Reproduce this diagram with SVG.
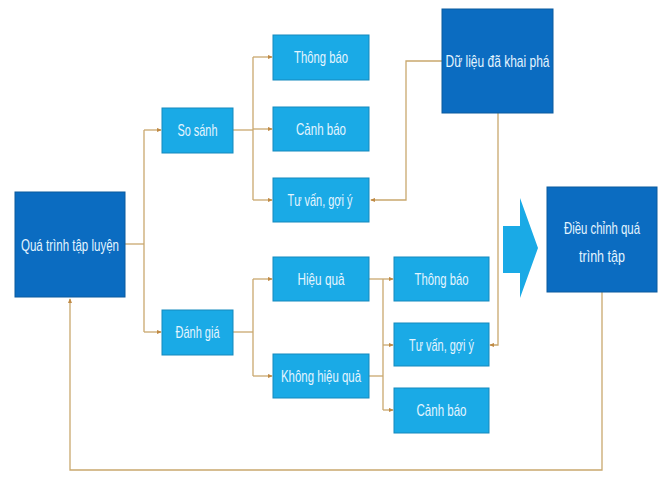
<svg xmlns="http://www.w3.org/2000/svg" width="661" height="481" viewBox="0 0 661 481">
<style>
.dark{fill:#0b6cc1;stroke:#0a5a9e;stroke-width:1}
.light{fill:#1aaae6;stroke:#1589bd;stroke-width:1}
.t{font-family:"Liberation Sans",Arial,sans-serif;font-size:17px;fill:#e4f5ff;text-anchor:middle;dominant-baseline:central}
.c{fill:none;stroke:#c9a86e;stroke-width:1.3}
</style>
<defs>
<marker id="ah" viewBox="0 0 6 6" refX="5" refY="3" markerWidth="5" markerHeight="5" orient="auto" markerUnits="userSpaceOnUse">
<path d="M0,0.5 L6,3 L0,5.5 z" fill="#c08a45"/>
</marker>
</defs>
<rect width="661" height="481" fill="#ffffff"/>
<g id="connectors">
<path class="c" d="M125,244 H144"/>
<path class="c" d="M144,130 V332"/>
<path class="c" d="M144,130 H161" marker-end="url(#ah)"/>
<path class="c" d="M144,332 H161" marker-end="url(#ah)"/>
<path class="c" d="M233,130 H253"/>
<path class="c" d="M253,57 V200"/>
<path class="c" d="M253,57 H272" marker-end="url(#ah)"/>
<path class="c" d="M253,129 H272" marker-end="url(#ah)"/>
<path class="c" d="M253,200 H272" marker-end="url(#ah)"/>
<path class="c" d="M233,332 H253"/>
<path class="c" d="M253,279 V376"/>
<path class="c" d="M253,279 H272" marker-end="url(#ah)"/>
<path class="c" d="M253,376 H272" marker-end="url(#ah)"/>
<path class="c" d="M369,279 H383"/>
<path class="c" d="M369,376 H383"/>
<path class="c" d="M383,279 V410"/>
<path class="c" d="M383,279 H393" marker-end="url(#ah)"/>
<path class="c" d="M383,345 H393" marker-end="url(#ah)"/>
<path class="c" d="M383,410 H393" marker-end="url(#ah)"/>
<path class="c" d="M442,61 H406 V200 H371" marker-end="url(#ah)"/>
<path class="c" d="M498,113 V345 H490" marker-end="url(#ah)"/>
<path class="c" d="M602,292 V470 H70 V299" marker-end="url(#ah)"/>
</g>
<g id="qua-trinh-tap-luyen">
<rect class="dark" x="15" y="192" width="110" height="105"/>
<text class="t" x="70" y="245" textLength="98" lengthAdjust="spacingAndGlyphs">Quá trình tập luyện</text>
</g>
<g id="so-sanh">
<rect class="light" x="162" y="108" width="71" height="45"/>
<text class="t" x="197.5" y="130" textLength="40" lengthAdjust="spacingAndGlyphs">So sánh</text>
</g>
<g id="danh-gia">
<rect class="light" x="162" y="310" width="71" height="45"/>
<text class="t" x="197.5" y="332" textLength="44" lengthAdjust="spacingAndGlyphs">Đánh giá</text>
</g>
<g id="thong-bao-1">
<rect class="light" x="273" y="35" width="96" height="45"/>
<text class="t" x="321" y="57" textLength="54" lengthAdjust="spacingAndGlyphs">Thông báo</text>
</g>
<g id="canh-bao-1">
<rect class="light" x="273" y="107" width="96" height="44"/>
<text class="t" x="321" y="129" textLength="50" lengthAdjust="spacingAndGlyphs">Cảnh báo</text>
</g>
<g id="tu-van-1">
<rect class="light" x="273" y="178" width="96" height="44"/>
<text class="t" x="320" y="200" textLength="65" lengthAdjust="spacingAndGlyphs">Tư vấn, gợi ý</text>
</g>
<g id="hieu-qua">
<rect class="light" x="273" y="257" width="96" height="44"/>
<text class="t" x="321" y="279" textLength="47" lengthAdjust="spacingAndGlyphs">Hiệu quả</text>
</g>
<g id="khong-hieu-qua">
<rect class="light" x="273" y="354" width="96" height="44"/>
<text class="t" x="321" y="376" textLength="80" lengthAdjust="spacingAndGlyphs">Không hiệu quả</text>
</g>
<g id="thong-bao-2">
<rect class="light" x="394" y="257" width="95" height="44"/>
<text class="t" x="441.5" y="279" textLength="54" lengthAdjust="spacingAndGlyphs">Thông báo</text>
</g>
<g id="tu-van-2">
<rect class="light" x="394" y="323" width="95" height="43"/>
<text class="t" x="441.5" y="345" textLength="65" lengthAdjust="spacingAndGlyphs">Tư vấn, gợi ý</text>
</g>
<g id="canh-bao-2">
<rect class="light" x="394" y="388" width="95" height="45"/>
<text class="t" x="441.5" y="410" textLength="50" lengthAdjust="spacingAndGlyphs">Cảnh báo</text>
</g>
<g id="du-lieu-da-khai-pha">
<rect class="dark" x="442" y="9" width="111" height="104"/>
<text class="t" x="497.5" y="61" textLength="104" lengthAdjust="spacingAndGlyphs">Dữ liệu đã khai phá</text>
</g>
<g id="big-arrow">
<path d="M503,226 H520 V198 L538,248 L520,298 V273 H503 Z" fill="#1aaae6"/>
</g>
<g id="dieu-chinh-qua-trinh-tap">
<rect class="dark" x="547" y="187" width="110" height="105"/>
<text class="t" x="602" y="228" textLength="76" lengthAdjust="spacingAndGlyphs">Điều chỉnh quá</text>
<text class="t" x="602" y="256" textLength="46" lengthAdjust="spacingAndGlyphs">trình tập</text>
</g>
</svg>
